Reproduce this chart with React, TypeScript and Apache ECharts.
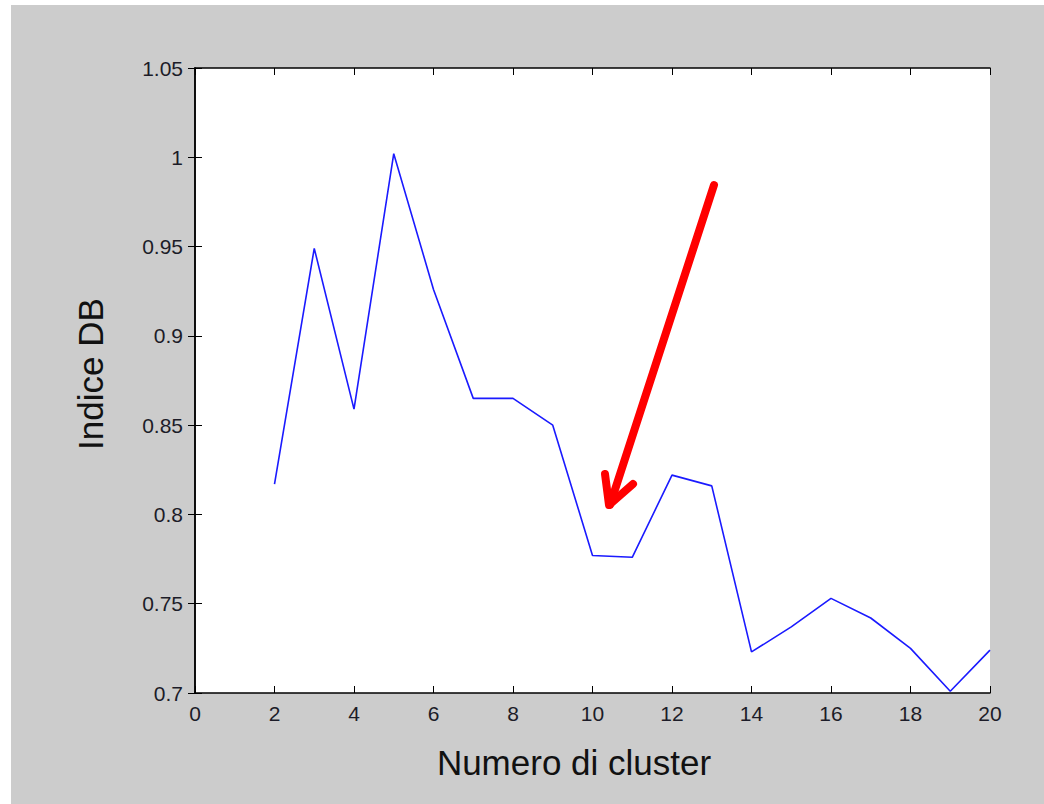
import React, { useEffect, useRef } from "react";
import * as echarts from "echarts";

// Davies–Bouldin index for each number of clusters
const clusterCounts = [2, 3, 4, 5, 6, 7, 8, 9, 10, 11, 12, 13, 14, 15, 16, 17, 18, 19, 20];
const dbIndex = [
  0.817, 0.949, 0.859, 1.002, 0.926, 0.865, 0.865, 0.85, 0.777, 0.776,
  0.822, 0.816, 0.723, 0.737, 0.753, 0.742, 0.725, 0.701, 0.724,
];

const xTicks = { min: 0, max: 20, step: 2 };
const yTicks = { min: 0.7, max: 1.05, step: 0.05 };

const xTitle = "Numero di cluster";
const yTitle = "Indice DB";

const labelFont = "'Liberation Sans', Arial, sans-serif";

export default function App() {
  const ref = useRef<HTMLDivElement>(null);

  useEffect(() => {
    if (!ref.current) return;
    const chart = echarts.init(ref.current, null, { renderer: "svg" });

    const fmtY = (v: number) => String(parseFloat(v.toFixed(2)));

    const axisLine = { show: true, lineStyle: { color: "#000", width: 1.5 } };
    const axisTick = { show: true, inside: true, length: 7, lineStyle: { color: "#000", width: 1 } };
    const axisLabel = {
      color: "#1c1c28",
      fontSize: 21,
      fontFamily: labelFont,
    };

    chart.setOption({
      animation: false,
      backgroundColor: "transparent",
      grid: {
        left: 195,
        top: 68,
        right: 54,
        bottom: 111,
        show: true,
        backgroundColor: "#ffffff",
        borderWidth: 0,
      },
      xAxis: [
        {
          type: "value",
          position: "bottom",
          min: xTicks.min,
          max: xTicks.max,
          interval: xTicks.step,
          axisLine,
          axisTick,
          splitLine: { show: false },
          axisLabel: { ...axisLabel, margin: 10 },
        },
        {
          type: "value",
          position: "top",
          min: xTicks.min,
          max: xTicks.max,
          interval: xTicks.step,
          axisLine,
          axisTick,
          splitLine: { show: false },
          axisLabel: { show: false },
        },
      ],
      yAxis: [
        {
          type: "value",
          position: "left",
          min: yTicks.min,
          max: yTicks.max,
          interval: yTicks.step,
          axisLine,
          axisTick,
          splitLine: { show: false },
          axisLabel: { ...axisLabel, margin: 12, formatter: fmtY },
        },
        {
          type: "value",
          position: "right",
          min: yTicks.min,
          max: yTicks.max,
          interval: yTicks.step,
          axisLine,
          axisTick,
          splitLine: { show: false },
          axisLabel: { show: false },
        },
      ],
      series: [
        {
          type: "line",
          xAxisIndex: 0,
          yAxisIndex: 0,
          data: clusterCounts.map((c, i) => [c, dbIndex[i]]),
          showSymbol: false,
          symbol: "none",
          lineStyle: { color: "#1a1aff", width: 1.6 },
        },
      ],
      graphic: [
        {
          type: "text",
          x: 574,
          y: 762,
          style: {
            text: xTitle,
            fontSize: 35,
            fontFamily: labelFont,
            fill: "#111",
            align: "center",
            verticalAlign: "middle",
          },
        },
        {
          type: "text",
          x: 90,
          y: 374,
          rotation: Math.PI / 2,
          style: {
            text: yTitle,
            fontSize: 35,
            fontFamily: labelFont,
            fill: "#111",
            align: "center",
            verticalAlign: "middle",
          },
        },
        // red arrow pointing at the elbow of the curve
        {
          type: "line",
          z: 100,
          shape: { x1: 714, y1: 185, x2: 610, y2: 505 },
          style: { stroke: "#ff0000", lineWidth: 8, lineCap: "round" },
        },
        {
          type: "polyline",
          z: 100,
          shape: { points: [[605, 474], [609, 505], [633, 484]] },
          style: { stroke: "#ff0000", lineWidth: 8, lineCap: "round", lineJoin: "round", fill: "none" },
        },
      ],
    });

    return () => chart.dispose();
  }, []);

  return (
    <div
      ref={ref}
      style={{
        position: "fixed",
        left: 0,
        top: 0,
        width: 1044,
        height: 804,
        background:
          "linear-gradient(#cccccc, #cccccc) 11px 5px / 1033px 799px no-repeat, #ffffff",
      }}
    />
  );
}
